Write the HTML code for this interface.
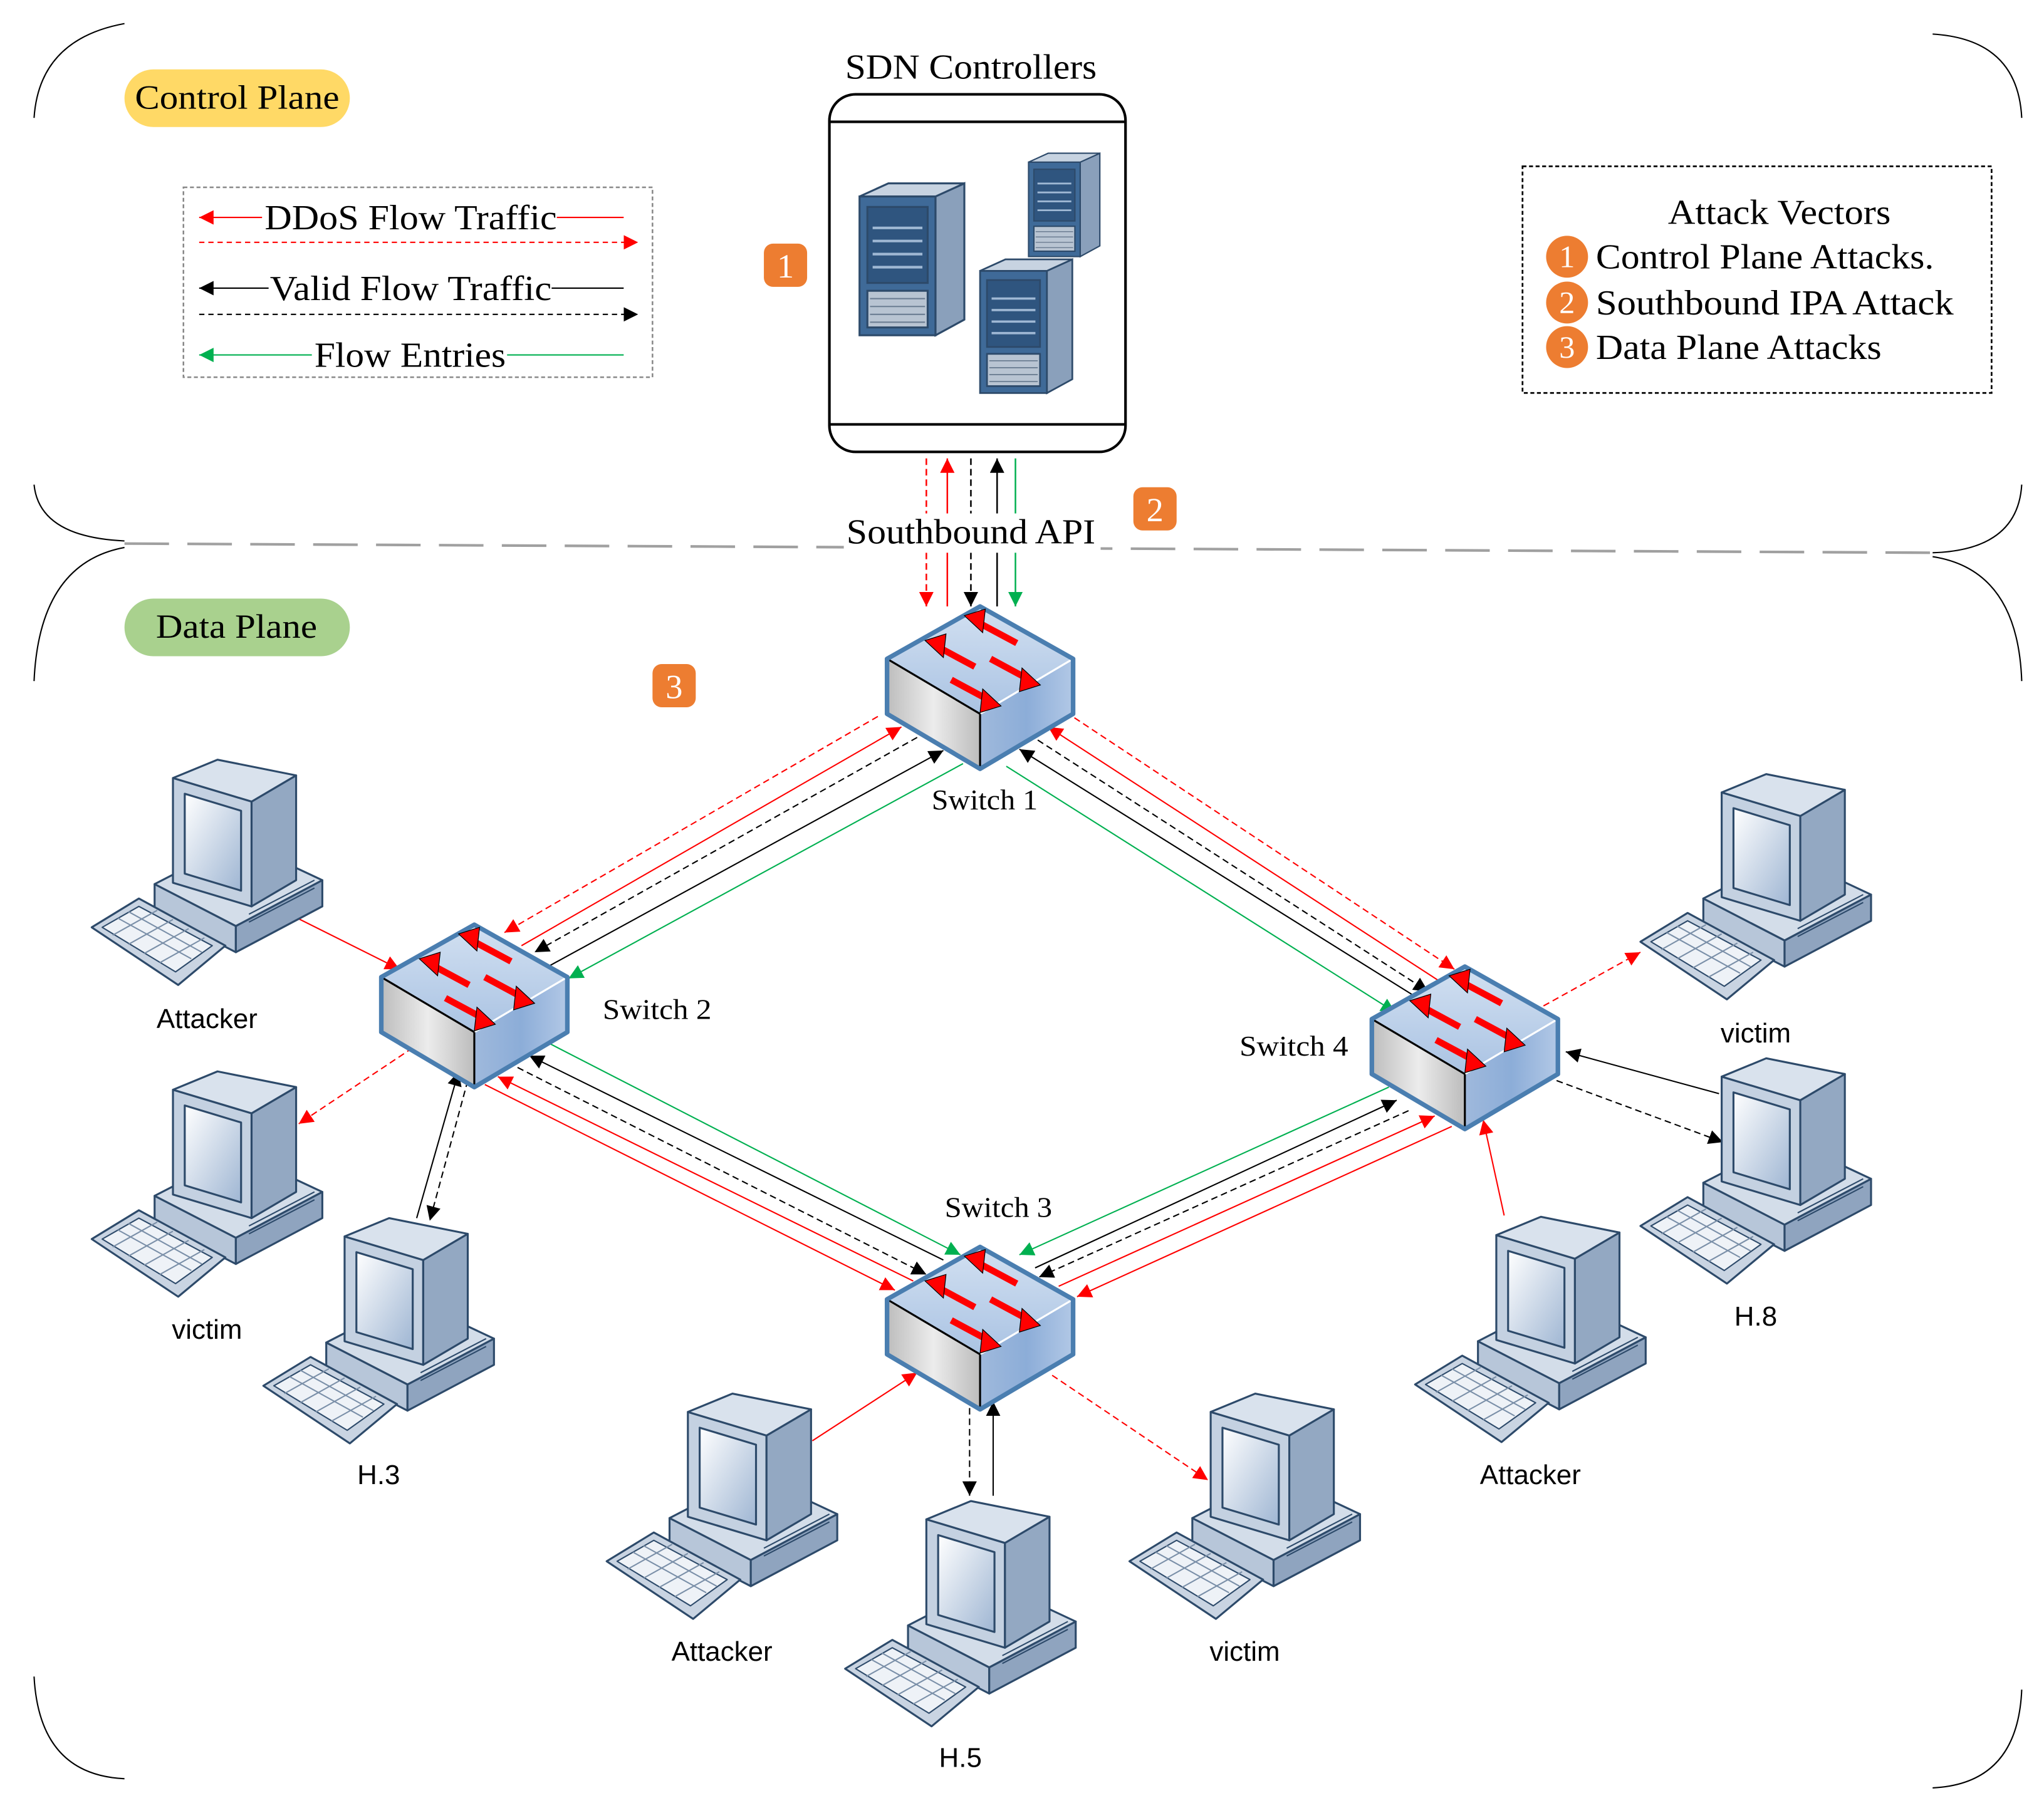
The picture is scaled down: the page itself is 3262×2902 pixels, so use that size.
<!DOCTYPE html>
<html><head><meta charset="utf-8"><style>
html,body{margin:0;padding:0;background:#fff;}
svg{display:block;}
.s{font-family:"Liberation Serif",serif;fill:#000;}
.a{font-family:"Liberation Sans",sans-serif;fill:#000;}
</style></head><body>
<svg width="3262" height="2902" viewBox="0 0 1560 1388" preserveAspectRatio="none" xmlns="http://www.w3.org/2000/svg">
<defs>
<marker id="mr" viewBox="0 0 10 10" refX="10" refY="5" markerWidth="11" markerHeight="11" markerUnits="userSpaceOnUse" orient="auto"><path d="M0,0L10,5L0,10z" fill="#f00"/></marker>
<marker id="mk" viewBox="0 0 10 10" refX="10" refY="5" markerWidth="11" markerHeight="11" markerUnits="userSpaceOnUse" orient="auto"><path d="M0,0L10,5L0,10z" fill="#000"/></marker>
<marker id="mg" viewBox="0 0 10 10" refX="10" refY="5" markerWidth="11" markerHeight="11" markerUnits="userSpaceOnUse" orient="auto"><path d="M0,0L10,5L0,10z" fill="#00b050"/></marker>
<linearGradient id="gl" x1="0" x2="1" y1="0" y2="0"><stop offset="0" stop-color="#bdbdbd"/><stop offset="0.5" stop-color="#ececec"/><stop offset="1" stop-color="#bcbcbc"/></linearGradient>
<linearGradient id="gr" x1="0" x2="1" y1="0" y2="0"><stop offset="0" stop-color="#9fb9dc"/><stop offset="0.5" stop-color="#8cadd8"/><stop offset="1" stop-color="#b2c8e6"/></linearGradient>
<linearGradient id="gt" x1="0" x2="0" y1="0" y2="1"><stop offset="0" stop-color="#d2e0f1"/><stop offset="1" stop-color="#aac3e3"/></linearGradient>
<linearGradient id="scr" x1="0" x2="1" y1="0" y2="1"><stop offset="0" stop-color="#ffffff"/><stop offset="1" stop-color="#9fb6d3"/></linearGradient>
<g id="sw">
<polygon points="0,82 -71,40 -71,82 0,124" fill="url(#gl)"/>
<polygon points="0,82 71,40 71,82 0,124" fill="url(#gr)"/>
<polygon points="0,0 71,40 0,82 -71,40" fill="url(#gt)"/>
<line x1="0" y1="82" x2="71" y2="40" stroke="#fff" stroke-width="1.5"/>
<line x1="-71" y1="40" x2="0" y2="82" stroke="#000" stroke-width="1.5"/>
<line x1="0" y1="82" x2="0" y2="124" stroke="#000" stroke-width="1.5"/>
<polygon points="0,0 71,40 71,82 0,124 -71,82 -71,40" fill="none" stroke="#4a7eb0" stroke-width="3.5" stroke-linejoin="round"/>
<g stroke="#f00" stroke-width="5" fill="#f00">
<line x1="28" y1="28" x2="0" y2="13"/><polygon points="-12,7 4,2 2,20" stroke="#000" stroke-width="0.6"/>
<line x1="-4" y1="46" x2="-30" y2="32"/><polygon points="-42,26 -26,21 -28,39" stroke="#000" stroke-width="0.6"/>
<line x1="8" y1="40" x2="34" y2="54"/><polygon points="46,60 30,65 32,47" stroke="#000" stroke-width="0.6"/>
<line x1="-22" y1="56" x2="4" y2="70"/><polygon points="16,76 0,81 2,63" stroke="#000" stroke-width="0.6"/>
</g>
</g>
<g id="pc" stroke="#2d4a6a" stroke-width="1.5" stroke-linejoin="round">
<polygon points="48,95 110,127 110,147 48,115" fill="#b7c6d9"/>
<polygon points="110,127 176,92 176,112 110,147" fill="#8fa4bf"/>
<polygon points="48,95 112,62 176,92 110,127" fill="#d3dde9"/>
<polygon points="62,14 122,32 122,112 62,94" fill="#c4d1e1"/>
<polygon points="71,26 114,39 114,100 71,87" fill="url(#scr)"/>
<polygon points="122,32 156,12 156,92 122,112" fill="#93a8c2"/>
<polygon points="62,14 96,0 156,12 122,32" fill="#d9e2ed"/>
<polygon points="0,128 36,106 102,142 66,172" fill="#c9d4e2"/>
<polygon points="8,128 36,112 92,142 64,162" fill="#eef2f7" stroke-width="1"/>
<path d="M20,121L76,152M28,116L84,147M16,134L50,115M28,141L62,122M40,148L74,129M52,155L86,136" stroke="#7a8fa8" stroke-width="1" fill="none"/>
<path d="M120,118L170,92M120,124L170,98" stroke="#2d4a6a" stroke-width="1"/>
</g>
<g id="srv" stroke="#2d4a6a" stroke-width="1.5">
<polygon points="0,10 58,10 58,116 0,116" fill="#3f6a98"/>
<polygon points="58,10 80,0 80,104 58,116" fill="#8aa0bb"/>
<polygon points="0,10 22,0 80,0 58,10" fill="#c7d3e1"/>
<rect x="6" y="18" width="46" height="58" fill="#2f557f"/>
<path d="M10,34H48M10,44H48M10,54H48M10,64H48" stroke="#9fb8d4" stroke-width="2"/>
<rect x="6" y="82" width="46" height="28" fill="#b8c4d2"/>
<path d="M8,88H50M8,94H50M8,100H50M8,106H50" stroke="#6b7d92" stroke-width="1"/>
</g>
</defs>

<g fill="none" stroke="#000" stroke-width="1">
<path d="M95,18 Q30,30 26,90"/>
<path d="M26,370 Q30,410 95,413"/>
<path d="M1475,26 Q1540,30 1543,90"/>
<path d="M1543,370 Q1540,420 1475,422"/>
<path d="M95,418 Q30,430 26,520"/>
<path d="M26,1280 Q30,1355 95,1358"/>
<path d="M1475,425 Q1540,435 1543,520"/>
<path d="M1543,1290 Q1540,1362 1475,1365"/>
</g>
<line x1="95" y1="415" x2="1475" y2="422" stroke="#a0a0a0" stroke-width="2" stroke-dasharray="34,14"/>

<rect x="95" y="53" width="172" height="44" rx="22" fill="#ffd966"/>
<text x="103" y="83" class="s" font-size="26" textLength="156" lengthAdjust="spacingAndGlyphs">Control Plane</text>
<rect x="95" y="457" width="172" height="44" rx="22" fill="#a9d18e"/>
<text x="119" y="487" class="s" font-size="26" textLength="123" lengthAdjust="spacingAndGlyphs">Data Plane</text>

<rect x="140" y="143" width="358" height="145" fill="none" stroke="#888" stroke-width="1.2" stroke-dasharray="3,2"/>
<line x1="200" y1="166" x2="152" y2="166" stroke="#f00" marker-end="url(#mr)"/>
<line x1="425" y1="166" x2="476" y2="166" stroke="#f00"/>
<text x="202" y="175" class="s" font-size="27" textLength="223" lengthAdjust="spacingAndGlyphs">DDoS Flow Traffic</text>
<line x1="152" y1="185" x2="487" y2="185" stroke="#f00" stroke-dasharray="4,3" marker-end="url(#mr)"/>
<line x1="205" y1="220" x2="152" y2="220" stroke="#000" marker-end="url(#mk)"/>
<line x1="421" y1="220" x2="476" y2="220" stroke="#000"/>
<text x="206" y="229" class="s" font-size="27" textLength="215" lengthAdjust="spacingAndGlyphs">Valid Flow Traffic</text>
<line x1="152" y1="240" x2="487" y2="240" stroke="#000" stroke-dasharray="4,3" marker-end="url(#mk)"/>
<line x1="238" y1="271" x2="152" y2="271" stroke="#00b050" marker-end="url(#mg)"/>
<line x1="387" y1="271" x2="476" y2="271" stroke="#00b050"/>
<text x="240" y="280" class="s" font-size="27" textLength="146" lengthAdjust="spacingAndGlyphs">Flow Entries</text>

<text x="645" y="60" class="s" font-size="27" textLength="192" lengthAdjust="spacingAndGlyphs">SDN Controllers</text>
<rect x="633" y="72" width="226" height="273" rx="20" fill="#fff" stroke="#000" stroke-width="2"/>
<line x1="633" y1="93" x2="859" y2="93" stroke="#000" stroke-width="2"/>
<line x1="633" y1="324" x2="859" y2="324" stroke="#000" stroke-width="2"/>
<use href="#srv" transform="translate(656,140)"/>
<use href="#srv" transform="translate(785,117) scale(0.68,0.68)"/>
<use href="#srv" transform="translate(748,198) scale(0.88,0.88)"/>

<g font-family="Liberation Serif,serif" font-size="26" fill="#fff" text-anchor="middle">
<rect x="583" y="186" width="33" height="33" rx="7" fill="#ed7d31"/><text x="599.5" y="212">1</text>
<rect x="865" y="372" width="33" height="33" rx="7" fill="#ed7d31"/><text x="881.5" y="398">2</text>
<rect x="498" y="507" width="33" height="33" rx="7" fill="#ed7d31"/><text x="514.5" y="533">3</text>
</g>

<rect x="1162" y="127" width="358" height="173" fill="none" stroke="#000" stroke-width="1.3" stroke-dasharray="3,2"/>
<text x="1273" y="171" class="s" font-size="27" textLength="170" lengthAdjust="spacingAndGlyphs">Attack Vectors</text>
<g font-family="Liberation Serif,serif" font-size="24" fill="#fff" text-anchor="middle">
<circle cx="1196" cy="196" r="16" fill="#ed7d31"/><text x="1196" y="204">1</text>
<circle cx="1196" cy="231" r="16" fill="#ed7d31"/><text x="1196" y="239">2</text>
<circle cx="1196" cy="265" r="16" fill="#ed7d31"/><text x="1196" y="273">3</text>
</g>
<text x="1218" y="205" class="s" font-size="27" textLength="258" lengthAdjust="spacingAndGlyphs">Control Plane Attacks.</text>
<text x="1218" y="240" class="s" font-size="27" textLength="273" lengthAdjust="spacingAndGlyphs">Southbound IPA Attack</text>
<text x="1218" y="274" class="s" font-size="27" textLength="218" lengthAdjust="spacingAndGlyphs">Data Plane Attacks</text>

<g stroke-width="1.2" fill="none">
<line x1="707" y1="350" x2="707" y2="463" stroke="#f00" stroke-dasharray="5,3" marker-end="url(#mr)"/>
<line x1="723" y1="463" x2="723" y2="350" stroke="#f00" marker-end="url(#mr)"/>
<line x1="741" y1="350" x2="741" y2="463" stroke="#000" stroke-dasharray="5,3" marker-end="url(#mk)"/>
<line x1="761" y1="463" x2="761" y2="350" stroke="#000" marker-end="url(#mk)"/>
<line x1="775" y1="350" x2="775" y2="463" stroke="#00b050" marker-end="url(#mg)"/>
</g>
<rect x="644" y="392" width="196" height="30" fill="#fff"/>
<text x="646" y="415" class="s" font-size="27" textLength="190" lengthAdjust="spacingAndGlyphs">Southbound API</text>

<g stroke-width="1" fill="none">
<line x1="670" y1="547" x2="385" y2="712" stroke="#f00" stroke-dasharray="5,3" marker-end="url(#mr)"/>
<line x1="398" y1="722" x2="688" y2="555" stroke="#f00" marker-end="url(#mr)"/>
<line x1="700" y1="563" x2="408" y2="727" stroke="#000" stroke-dasharray="5,3" marker-end="url(#mk)"/>
<line x1="420" y1="737" x2="720" y2="573" stroke="#000" marker-end="url(#mk)"/>
<line x1="735" y1="583" x2="434" y2="747" stroke="#00b050" marker-end="url(#mg)"/>

<line x1="820" y1="548" x2="1110" y2="740" stroke="#f00" stroke-dasharray="5,3" marker-end="url(#mr)"/>
<line x1="1100" y1="750" x2="800" y2="555" stroke="#f00" marker-end="url(#mr)"/>
<line x1="792" y1="565" x2="1090" y2="757" stroke="#000" stroke-dasharray="5,3" marker-end="url(#mk)"/>
<line x1="1082" y1="762" x2="778" y2="572" stroke="#000" marker-end="url(#mk)"/>
<line x1="768" y1="585" x2="1065" y2="773" stroke="#00b050" marker-end="url(#mg)"/>

<line x1="370" y1="828" x2="683" y2="985" stroke="#f00" marker-end="url(#mr)"/>
<line x1="697" y1="978" x2="380" y2="822" stroke="#f00" marker-end="url(#mr)"/>
<line x1="395" y1="815" x2="707" y2="973" stroke="#000" stroke-dasharray="5,3" marker-end="url(#mk)"/>
<line x1="720" y1="962" x2="404" y2="806" stroke="#000" marker-end="url(#mk)"/>
<line x1="420" y1="797" x2="733" y2="958" stroke="#00b050" marker-end="url(#mg)"/>

<line x1="1060" y1="830" x2="778" y2="958" stroke="#00b050" marker-end="url(#mg)"/>
<line x1="790" y1="968" x2="1066" y2="840" stroke="#000" marker-end="url(#mk)"/>
<line x1="1075" y1="848" x2="793" y2="975" stroke="#000" stroke-dasharray="5,3" marker-end="url(#mk)"/>
<line x1="808" y1="982" x2="1095" y2="852" stroke="#f00" marker-end="url(#mr)"/>
<line x1="1108" y1="860" x2="822" y2="990" stroke="#f00" marker-end="url(#mr)"/>

<line x1="225" y1="700" x2="305" y2="740" stroke="#f00" marker-end="url(#mr)"/>
<line x1="315" y1="800" x2="228" y2="858" stroke="#f00" stroke-dasharray="5,3" marker-end="url(#mr)"/>
<line x1="318" y1="930" x2="350" y2="818" stroke="#000" marker-end="url(#mk)"/>
<line x1="357" y1="825" x2="328" y2="932" stroke="#000" stroke-dasharray="5,3" marker-end="url(#mk)"/>
<line x1="620" y1="1100" x2="700" y2="1048" stroke="#f00" marker-end="url(#mr)"/>
<line x1="740" y1="1075" x2="740" y2="1142" stroke="#000" stroke-dasharray="5,3" marker-end="url(#mk)"/>
<line x1="758" y1="1142" x2="758" y2="1070" stroke="#000" marker-end="url(#mk)"/>
<line x1="803" y1="1050" x2="922" y2="1130" stroke="#f00" stroke-dasharray="5,3" marker-end="url(#mr)"/>
<line x1="1148" y1="928" x2="1132" y2="855" stroke="#f00" marker-end="url(#mr)"/>
<line x1="1178" y1="768" x2="1252" y2="727" stroke="#f00" stroke-dasharray="5,3" marker-end="url(#mr)"/>
<line x1="1312" y1="835" x2="1195" y2="803" stroke="#000" marker-end="url(#mk)"/>
<line x1="1188" y1="825" x2="1315" y2="872" stroke="#000" stroke-dasharray="5,3" marker-end="url(#mk)"/>
</g>

<use href="#sw" transform="translate(748,463)"/>
<use href="#sw" transform="translate(362,706)"/>
<use href="#sw" transform="translate(748,952)"/>
<use href="#sw" transform="translate(1118,738)"/>
<text x="711" y="618" class="s" font-size="22" textLength="81" lengthAdjust="spacingAndGlyphs">Switch 1</text>
<text x="460" y="778" class="s" font-size="22" textLength="83" lengthAdjust="spacingAndGlyphs">Switch 2</text>
<text x="721" y="929" class="s" font-size="22" textLength="82" lengthAdjust="spacingAndGlyphs">Switch 3</text>
<text x="946" y="806" class="s" font-size="22" textLength="83" lengthAdjust="spacingAndGlyphs">Switch 4</text>

<use href="#pc" transform="translate(70,580)"/>
<use href="#pc" transform="translate(70,818)"/>
<use href="#pc" transform="translate(201,930)"/>
<use href="#pc" transform="translate(463,1064)"/>
<use href="#pc" transform="translate(645,1146)"/>
<use href="#pc" transform="translate(862,1064)"/>
<use href="#pc" transform="translate(1080,929)"/>
<use href="#pc" transform="translate(1252,591)"/>
<use href="#pc" transform="translate(1252,808)"/>
<g class="a" font-size="21" text-anchor="middle">
<text x="158" y="785">Attacker</text>
<text x="158" y="1022">victim</text>
<text x="289" y="1133">H.3</text>
<text x="551" y="1268">Attacker</text>
<text x="733" y="1349">H.5</text>
<text x="950" y="1268">victim</text>
<text x="1168" y="1133">Attacker</text>
<text x="1340" y="796">victim</text>
<text x="1340" y="1012">H.8</text>
</g>
</svg>
</body></html>
